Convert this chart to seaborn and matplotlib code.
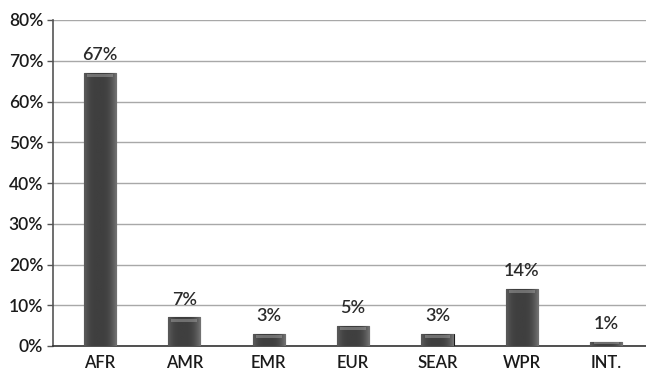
import numpy as np
import pandas as pd
import matplotlib
matplotlib.use("Agg")
import matplotlib.pyplot as plt
import seaborn as sns

regions = ["AFR", "AMR", "EMR", "EUR", "SEAR", "WPR", "INT."]
shares = [67, 7, 3, 5, 3, 14, 1]
y_ticks = [0, 10, 20, 30, 40, 50, 60, 70, 80]

df = pd.DataFrame({"region": regions, "share": shares})

sns.set_theme(style="white")
plt.rcParams["font.family"] = ["Lato", "DejaVu Sans"]
plt.rcParams["font.weight"] = "semibold"

fig = plt.figure(figsize=(6.46, 3.71), dpi=100)
ax = fig.add_axes([53 / 646, 1 - 346 / 371, (646 - 53) / 646, (346 - 20) / 371])

sns.barplot(data=df, x="region", y="share", color="#3a3a3a", width=0.38,
            edgecolor="#1c1c1c", linewidth=0.8, ax=ax, zorder=3)

# soft cylinder shading on each bar: lighter rims, darker body
grad = np.linspace(0, 1, 64)
shade = 0.25 + 0.25 * (np.abs(grad - 0.45) / 0.55) ** 3
img = np.tile(shade, (2, 1))
for patch in ax.patches:
    x0, y0 = patch.get_x(), patch.get_y()
    w, h = patch.get_width(), patch.get_height()
    im = ax.imshow(img, cmap="gray", vmin=0, vmax=1, aspect="auto",
                   extent=[x0, x0 + w, y0, y0 + h], zorder=3.5, alpha=0.9,
                   interpolation="bicubic")
    im.set_clip_path(patch)
    # light cap at the top of the bar
    cap = min(1.0, h * 0.45)
    ax.fill_between([x0 + w * 0.1, x0 + w * 0.9], y0 + h - cap, y0 + h - cap * 0.3,
                    color="#9a9a9a", alpha=0.55, zorder=4, linewidth=0)

ax.set_xlim(-0.556, 6.47)
ax.set_ylim(0, 80)
ax.set_yticks(y_ticks)
ax.set_yticklabels([f"{t}%" for t in y_ticks])
ax.yaxis.grid(True, color="#a8a8a8", linewidth=1.0, zorder=0)
ax.set_axisbelow(True)

for i, v in enumerate(shares):
    ax.text(i, v + 2.4, f"{v}%", ha="center", va="bottom", fontsize=13,
            color="#2a2a2a", zorder=5)

for s in ["top", "right"]:
    ax.spines[s].set_visible(False)
ax.spines["left"].set_color("#555555")
ax.spines["bottom"].set_color("#333333")
ax.spines["left"].set_linewidth(1.2)
ax.spines["bottom"].set_linewidth(1.2)
ax.tick_params(axis="y", left=True, length=4, width=1.0, color="#555555",
               labelsize=12.5, labelcolor="#1a1a1a", pad=3)
ax.tick_params(axis="x", bottom=False, labelsize=12, labelcolor="#1a1a1a", pad=0.5)
ax.set_xlabel("")
ax.set_ylabel("")

fig.savefig("out.png", dpi=100, facecolor="white")
